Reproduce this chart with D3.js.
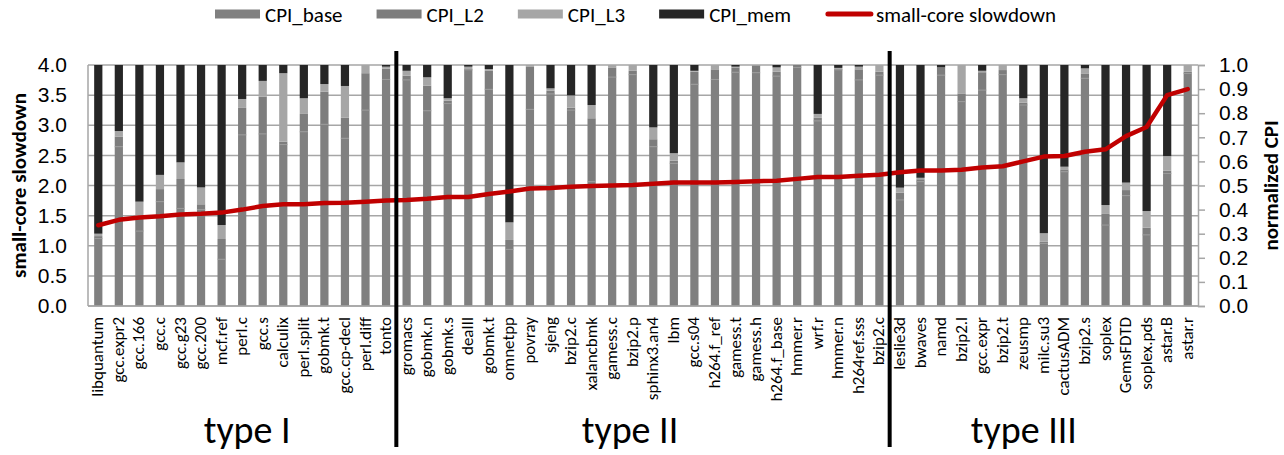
<!DOCTYPE html>
<html>
<head>
<meta charset="utf-8">
<script src="https://cdn.jsdelivr.net/npm/d3@7/dist/d3.min.js"></script>
<style>
  body { margin: 0; background: #fff; }
  svg { display: block; font-family: Carlito, Calibri, Lato, sans-serif; }
</style>
</head>
<body>
<svg id="chart" width="1284" height="455"></svg>
<script>
// benchmarks, in plot order
const benchmarks = [
  "libquantum", "gcc.expr2", "gcc.166", "gcc.c", "gcc.g23", "gcc.200", "mcf.ref", "perl.c",
  "gcc.s", "calculix", "perl.split", "gobmk.t", "gcc.cp-decl", "perl.diff", "tonto",
  "gromacs", "gobmk.n", "gobmk.s", "dealII", "gobmk.t", "omnetpp", "povray", "sjeng",
  "bzip2.c", "xalancbmk", "gamess.c", "bzip2.p", "sphinx3.an4", "lbm", "gcc.s04",
  "h264.f_ref", "gamess.t", "gamess.h", "h264.f_base", "hmmer.r", "wrf.r", "hmmer.n",
  "h264ref.sss", "bzip2.c",
  "leslie3d", "bwaves", "namd", "bzip2.l", "gcc.expr", "bzip2.t", "zeusmp", "milc.su3",
  "cactusADM", "bzip2.s", "soplex", "GemsFDTD", "soplex.pds", "astar.B", "astar.r"
];

// normalized CPI components (stacked, bottom to top)
const cpiBase = [
  .280, .661, .311, .433, .405, .400, .194, .710, .714, .670, .723, .754, .696, .813, .940,
  .938, .810, .840, .980, .899, .235, .816, .880, .813, .516, .950, .960, .661, .592, .920,
  .940, .970, .968, .954, .990, .768, .980, .938, .958,
  .440, .516, .958, .848, .896, .960, .834, .260, .557, .945, .336, .458, .295, .550, .965
];
const cpiL2 = [
  .010, .041, .060, .052, .122, .022, .084, .112, .155, .012, .074, .135, .085, .153, .045,
  .018, .104, .012, .006, .077, .039, .178, .013, .010, .263, .040, .016, .031, .011, .052,
  .042, .020, .030, .018, .010, .013, .006, .044, .014,
  .030, .010, .032, .034, .074, .019, .010, .007, .010, .018, .046, .023, .030, .011, .007
];
const cpiL3 = [
  .010, .024, .062, .059, .069, .070, .058, .037, .065, .284, .065, .032, .132, .034, .008,
  .020, .035, .010, .007, .007, .073, .006, .010, .051, .055, .010, .024, .049, .031, .004,
  .018, .003, .002, .018, .000, .016, .002, .011, .028,
  .021, .006, .000, .118, .006, .021, .018, .035, .011, .023, .037, .031, .069, .061, .028
];
const cpiMem = [
  .700, .274, .567, .456, .404, .508, .664, .141, .066, .034, .138, .079, .087, .000, .007,
  .024, .051, .138, .007, .017, .653, .000, .097, .126, .166, .000, .000, .259, .366, .024,
  .000, .007, .000, .010, .000, .203, .012, .007, .000,
  .509, .468, .010, .000, .024, .000, .138, .698, .422, .014, .581, .488, .606, .378, .000
];

// small-core slowdown (left axis)
const slowdown = [
  1.34, 1.43, 1.47, 1.49, 1.52, 1.53, 1.55, 1.60, 1.66, 1.69, 1.69, 1.71, 1.715, 1.73, 1.75,
  1.76, 1.78, 1.81, 1.81, 1.86, 1.90, 1.95, 1.96, 1.98, 1.99, 2.00, 2.01, 2.03, 2.05, 2.05,
  2.05, 2.06, 2.07, 2.08, 2.11, 2.14, 2.14, 2.16, 2.18,
  2.22, 2.25, 2.25, 2.26, 2.30, 2.32, 2.40, 2.48, 2.49, 2.56, 2.60, 2.82, 2.97, 3.50, 3.60
];

const groupNames = ["type I", "type II", "type III"];
const groupSizes = [15, 24, 15];

const leftTicks = [0, 0.5, 1, 1.5, 2, 2.5, 3, 3.5, 4];
const rightTicks = [0, 0.1, 0.2, 0.3, 0.4, 0.5, 0.6, 0.7, 0.8, 0.9, 1.0];

const seriesNames = ["CPI_base", "CPI_L2", "CPI_L3", "CPI_mem"];
const seriesColors = ["#808080", "#7d7d7d", "#a6a6a6", "#262626"];

const svg = d3.select("#chart");
const margin = { top: 65, right: 86, bottom: 149, left: 88 };
const width = +svg.attr("width") - margin.left - margin.right;
const height = +svg.attr("height") - margin.top - margin.bottom;

const keys = benchmarks.map((d, i) => i);
const x = d3.scaleBand().domain(keys).range([0, width]).paddingInner(0.6).paddingOuter(0.3);
const yLeft = d3.scaleLinear().domain([0, 4]).range([height, 0]);
const yRight = d3.scaleLinear().domain([0, 1]).range([height, 0]);

const rows = keys.map(i => ({
  name: benchmarks[i],
  CPI_base: cpiBase[i],
  CPI_L2: cpiL2[i],
  CPI_L3: cpiL3[i],
  CPI_mem: cpiMem[i]
}));
const stacked = d3.stack().keys(seriesNames)(rows);

const g = svg.append("g").attr("transform", `translate(${margin.left}, ${margin.top})`);

// grid lines follow the left axis
g.append("g")
  .selectAll("line")
  .data(leftTicks)
  .enter()
  .append("line")
  .attr("x1", 0)
  .attr("x2", width)
  .attr("y1", d => yLeft(d))
  .attr("y2", d => yLeft(d))
  .attr("stroke", "#a6a6a6")
  .attr("stroke-width", 1.5);

// stacked bars
stacked.forEach((layer, li) => {
  g.append("g")
    .attr("fill", seriesColors[li])
    .selectAll("rect")
    .data(layer)
    .enter()
    .append("rect")
    .attr("x", (d, i) => x(i))
    .attr("width", x.bandwidth())
    .attr("y", d => yRight(d[1]))
    .attr("height", d => Math.max(0, yRight(d[0]) - yRight(d[1])));
});

// faint seam between base and L2
g.append("g")
  .selectAll("line")
  .data(stacked[0])
  .enter()
  .append("line")
  .attr("x1", (d, i) => x(i))
  .attr("x2", (d, i) => x(i) + x.bandwidth())
  .attr("y1", d => yRight(d[1]))
  .attr("y2", d => yRight(d[1]))
  .attr("stroke", "#9a9a9a")
  .attr("stroke-width", 1);

// axes lines
g.append("line").attr("x1", 0).attr("x2", 0).attr("y1", 0).attr("y2", height)
  .attr("stroke", "#a6a6a6").attr("stroke-width", 1.5);
g.append("line").attr("x1", 0).attr("x2", width).attr("y1", height).attr("y2", height)
  .attr("stroke", "#a6a6a6").attr("stroke-width", 1.5);

const leftAxis = d3.axisLeft(yLeft).tickValues(leftTicks).tickFormat(d3.format(".1f")).tickSize(0).tickPadding(21);
g.append("g").call(s => {
  s.call(leftAxis);
  s.select(".domain").remove();
  s.selectAll(".tick text").attr("fill", "#000").style("font-size", "21px").style("font-family", null);
});

const rightAxis = d3.axisRight(yRight).tickValues(rightTicks).tickFormat(d3.format(".1f")).tickSize(7).tickPadding(14);
g.append("g")
  .attr("transform", `translate(${width}, 0)`)
  .call(s => {
    s.call(rightAxis);
    s.select(".domain").attr("stroke", "#a6a6a6").attr("stroke-width", 1.5);
    s.selectAll(".tick line").attr("stroke", "#a6a6a6").attr("stroke-width", 1.5);
    s.selectAll(".tick text").attr("fill", "#000").style("font-size", "21px").style("font-family", null);
  });

// category labels
g.append("g")
  .selectAll("text")
  .data(benchmarks)
  .enter()
  .append("text")
  .attr("transform", (d, i) => `translate(${x(i) + x.bandwidth() / 2 + 5}, ${height + 11}) rotate(-90)`)
  .attr("text-anchor", "end")
  .style("font-size", "17px")
  .text(d => d);

// slowdown line
const line = d3.line()
  .x((d, i) => x(i) + x.bandwidth() / 2)
  .y(d => yLeft(d));
g.append("path")
  .datum(slowdown)
  .attr("d", line)
  .attr("fill", "none")
  .attr("stroke", "#c00000")
  .attr("stroke-width", 4.5)
  .attr("stroke-linejoin", "round")
  .attr("stroke-linecap", "round");

// group separators and names
const half = x.step() * x.paddingInner() / 2;
let start = 0;
const labelNudge = [5, -13, -20];
groupSizes.forEach((n, gi) => {
  const x0 = x(start) - half;
  const x1 = x(start + n - 1) + x.bandwidth() + half;
  if (gi > 0) {
    g.append("line")
      .attr("x1", x0).attr("x2", x0)
      .attr("y1", -14).attr("y2", height + 141)
      .attr("stroke", "#000").attr("stroke-width", 4);
  }
  g.append("text")
    .attr("x", (x0 + x1) / 2 + labelNudge[gi])
    .attr("y", height + 137)
    .attr("text-anchor", "middle")
    .style("font-size", "38px")
    .text(groupNames[gi]);
  start += n;
});

// axis titles
svg.append("text")
  .attr("transform", `translate(26, ${margin.top + height / 2}) rotate(-90)`)
  .attr("text-anchor", "middle")
  .style("font-size", "21px")
  .style("font-weight", "bold")
  .text("small-core slowdown");

svg.append("text")
  .attr("transform", `translate(1278, ${margin.top + height / 2}) rotate(-90)`)
  .attr("text-anchor", "middle")
  .style("font-size", "21px")
  .style("font-weight", "bold")
  .text("normalized CPI");

// legend
const legend = svg.append("g").attr("transform", "translate(215, 14)");
let lx = 0;
const legendItems = seriesNames.map((n, i) => ({ name: n, color: seriesColors[i], type: "rect" }))
  .concat([{ name: "small-core slowdown", color: "#c00000", type: "line" }]);
legendItems.forEach(item => {
  const it = legend.append("g").attr("transform", `translate(${lx}, 0)`);
  if (item.type === "rect") {
    it.append("rect").attr("x", 0).attr("y", -4.5).attr("width", 45).attr("height", 9).attr("fill", item.color);
  } else {
    it.append("line").attr("x1", 3).attr("x2", 46).attr("y1", 0).attr("y2", 0)
      .attr("stroke", item.color).attr("stroke-width", 5).attr("stroke-linecap", "round");
  }
  const t = it.append("text").attr("x", item.type === "rect" ? 50 : 51).attr("y", 7.5)
    .style("font-size", "21px").text(item.name);
  lx += (item.type === "rect" ? 50 : 51) + t.node().getComputedTextLength() + 34;
});
</script>
</body>
</html>
